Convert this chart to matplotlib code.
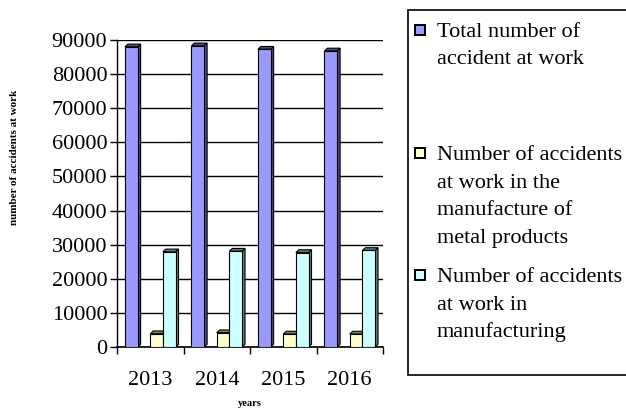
import matplotlib
matplotlib.use("Agg")
import matplotlib.pyplot as plt
from matplotlib.patches import Polygon, Rectangle
import numpy as np

years = ["2013", "2014", "2015", "2016"]
total = [88000, 88300, 87300, 86800]
metal = [3900, 4200, 3800, 3800]
manufacturing = [27900, 28100, 27700, 28300]

series_names = [["Total number of", "accident at work"], [],
                ["Number of accidents", "at work in the", "manufacture of", "metal products"],
                ["Number of accidents", "at work in", "manufacturing"]]
series_vals = [total, None, metal, manufacturing]
face_cols = ["#9999FF", None, "#FFFFCC", "#CCFFFF"]
side_cols = ["#4D4D80", None, "#808066", "#5F807F"]

plt.rcParams['font.family'] = ['Liberation Serif', 'DejaVu Serif']

fig = plt.figure(figsize=(6.26, 4.17), dpi=100)
ax = fig.add_axes([117/626, 1-347/417, (383-117)/626, (347-40)/417])

x = np.arange(len(years))
w = 0.19
offsets = [-0.285, -0.095, 0.095, 0.285]
dx, dy = 0.045, 800

for vals, off, fc, sc in zip(series_vals, offsets, face_cols, side_cols):
    if vals is None:
        continue
    for xi, h in zip(x, vals):
        left = xi + off - w/2
        right = left + w
        side = Polygon([(right, 0), (right+dx, dy), (right+dx, h+dy), (right, h)],
                       closed=True, facecolor=sc, edgecolor="black", lw=0.8, zorder=3)
        top = Polygon([(left, h), (left+dx, h+dy), (right+dx, h+dy), (right, h)],
                      closed=True, facecolor=sc, edgecolor="black", lw=0.8, zorder=3)
        ax.add_patch(side)
        ax.add_patch(top)
    ax.bar(x + off, vals, width=w, color=fc, edgecolor="black", lw=0.8, zorder=4)

ax.set_xlim(-0.5, 3.5)
ax.set_ylim(0, 90000)
ax.set_yticks(np.arange(0, 90001, 10000))
ax.set_yticklabels([str(v) for v in range(0, 90001, 10000)], fontsize=16)
ax.set_xticks(x)
ax.set_xticklabels(years, fontsize=16)
ax.set_xticks(np.arange(-0.5, 3.6, 1), minor=True)
ax.tick_params(axis='x', which='major', length=0, pad=17)
ax.tick_params(axis='x', which='minor', length=5, width=1, direction='out')
ax.tick_params(axis='y', length=5, width=1, direction='out', pad=2)
ax.yaxis.grid(True, color="black", lw=1, zorder=0)
ax.set_axisbelow(True)
for s in ["top", "right"]:
    ax.spines[s].set_visible(False)
ax.spines["left"].set_linewidth(1)
ax.spines["bottom"].set_linewidth(1.2)

fig.text(15/626, 1-157/417, "number of accidents at work", rotation=90,
         fontsize=8, fontweight="bold", ha="center", va="center")
fig.text(250/626, 1-404/417, "years", fontsize=7.5, fontweight="bold",
         ha="center", va="center")

# Legend box (right edge runs off the figure)
fig.add_artist(Rectangle((408/626, 1-375/417), (640-408)/626, (375-10)/417,
                         transform=fig.transFigure, facecolor="white",
                         edgecolor="black", lw=1.2))
entries = [(0, 37), (2, 160), (3, 282)]
line_gap = 27.5
for idx, base in entries:
    fig.add_artist(Rectangle((415/626, 1-(base-2)/417), 10/626, 10/417,
                             transform=fig.transFigure, facecolor=face_cols[idx],
                             edgecolor="black", lw=1.4))
    for i, line in enumerate(series_names[idx]):
        fig.text(437/626, 1-(base + i*line_gap)/417, line, fontsize=16,
                 ha="left", va="baseline")

fig.savefig("out.png", dpi=100)
